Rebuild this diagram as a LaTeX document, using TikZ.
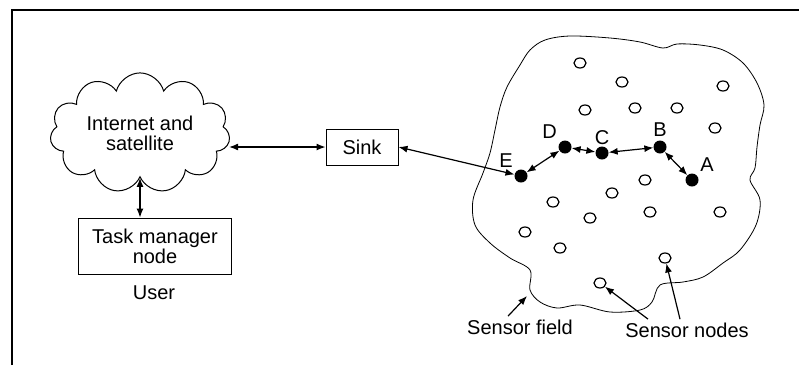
\documentclass[tikz,border=0pt]{standalone}
\usepackage{fontspec}
\setmainfont{Liberation Sans}
\usetikzlibrary{arrows.meta,shapes.symbols,shapes.geometric}
\begin{document}
\begin{tikzpicture}[x=1pt,y=-1pt,font=\fontsize{20}{20}\selectfont,
  >={Latex[length=9pt,width=7pt]},
  box/.style={draw,line width=1pt,align=center,inner sep=3pt},
  sensor/.style={ellipse,draw,line width=1.2pt,minimum width=12pt,minimum height=10pt,inner sep=0pt},
  hop/.style={circle,fill,minimum size=13pt,inner sep=0pt},
  link/.style={<->,line width=1.2pt}]
  \useasboundingbox (0,0) rectangle (799,365);
  \draw[line width=1.5pt] (12,365) -- (12,10) -- (799,10);
  \node[cloud,draw,cloud puffs=11,aspect=1.8,minimum width=180pt,minimum height=100pt,
    align=center,line width=1pt] (net) at (140,133) {Internet and\\satellite};
  \node[box,minimum width=153pt,minimum height=56pt] (task) at (155,246) {Task manager\\node};
  \node[anchor=base] (user) at (154,299) {User};
  \node[box,minimum width=72pt,minimum height=36pt] (sink) at (362,147) {Sink};
  \draw[link] (net.south) -- (net.south |- task.north);
  \draw[link] (sink.west -| net.east) -- (sink.west);
  \draw[line width=0.8pt] plot[smooth cycle,tension=0.55] coordinates {
    (507,87) (520,65) (530,50) (545,40) (570,36) (610,38) (640,42) (663,48)
    (677,44) (700,45) (723,50) (743,63) (757,83) (764,105) (760,125) (757,147)
    (755,168) (750,180) (760,200) (756,225) (740,250) (723,263) (703,277)
    (683,282) (660,285) (652,302) (640,310) (610,312) (580,305) (557,308)
    (540,302) (530,290) (530,270) (510,258) (490,243) (475,225) (473,200)
    (483,173) (490,153) (495,130) (500,107)};
  \foreach \x/\y [count=\i] in {580/63,622/82,723/86,585/110,635/108,677/108,
    715/128,645/180,612/193,553/202,650/212,720/212,590/218,525/232,560/248,
    665/258,600/283}
    \node[sensor] (s\i) at (\x,\y) {};
  \node[hop,label={above left:E}] (e) at (521,176) {};
  \node[hop,label={above left:D}] (d) at (565,147) {};
  \node[hop,label={[yshift=-2pt]above:C}] (c) at (602,153) {};
  \node[hop,label={above:B}] (b) at (660,147) {};
  \node[hop,label={above right:A}] (a) at (692,180) {};
  \draw[link] (sink.east) -- (e);
  \draw[link] (e) -- (d);
  \draw[link] (d) -- (c);
  \draw[link] (c) -- (b);
  \draw[link] (b) -- (a);
  \node (fieldlbl) at (520,327) {Sensor field};
  \node (nodelbl) at (687,330) {Sensor nodes};
  \coordinate (notch) at (527,296);
  \draw[->,line width=1.2pt] ([xshift=-12pt]fieldlbl.north) -- (notch);
  \draw[->,line width=1.2pt] ([xshift=-39pt]nodelbl.north) -- (s17);
  \draw[->,line width=1.2pt] ([xshift=-7pt]nodelbl.north) -- (s16);
\end{tikzpicture}
\end{document}
